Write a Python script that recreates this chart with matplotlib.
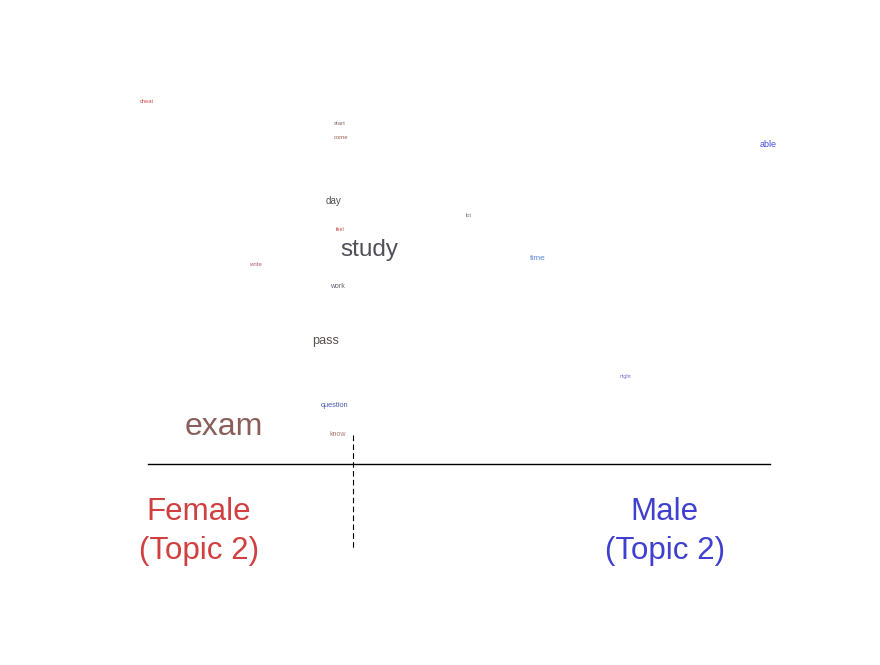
import matplotlib
matplotlib.use("Agg")
import matplotlib.pyplot as plt

plt.rcParams['font.family'] = ['Liberation Sans', 'DejaVu Sans']

# palabras del topico y su posicion (x: lado femenino/masculino, y: orden)
words = ["cheat", "start", "come", "able", "day", "lot", "feel", "study",
         "write", "time", "work", "pass", "night", "question", "exam", "know"]
word_x = [-1.003, -0.383, -0.379, 0.994, -0.402, 0.032, -0.383, -0.289,
          -0.656, 0.254, -0.392, -0.428, 0.537, -0.399, -0.756, -0.389]
word_y = [0.998, 0.937, 0.899, 0.879, 0.724, 0.684, 0.645, 0.589,
          0.549, 0.567, 0.488, 0.339, 0.240, 0.160, 0.102, 0.081]
# peso relativo de cada palabra (frecuencia)
word_weight = [0.18, 0.19, 0.19, 0.28, 0.31, 0.18, 0.17, 0.76,
               0.19, 0.26, 0.22, 0.40, 0.17, 0.23, 1.00, 0.22]
word_colors = ["#cc4c4c", "#8a6a6a", "#a06060", "#4a4ae0", "#555050", "#8a6a8a",
               "#cc4a4a", "#505058", "#b06060", "#5a86d8", "#606070", "#5a5050",
               "#7070d0", "#4a5aa8", "#8a5f5a", "#b07878"]

group_labels = ["Female\n(Topic 2)", "Male\n(Topic 2)"]
group_x = [-0.836, 0.662]
group_colors = ["#d04040", "#4040d0"]
mean_x = -0.341

fig = plt.figure(figsize=(8.8, 6.65), dpi=100)
ax = fig.add_axes([0, 0, 1, 1])
ax.set_xlim(-1.476, 1.354)
ax.set_ylim(-0.554, 1.278)
ax.axis("off")

for w, x, y, s, c in zip(words, word_x, word_y, word_weight, word_colors):
    ax.text(x, y, w, fontsize=23 * s, color=c, ha="center", va="center")

# linea base y linea punteada
ax.plot([-1, 1], [0, 0], color="black", lw=1)
ax.plot([mean_x, mean_x], [0.080, -0.231], color="black", lw=0.8,
        linestyle=(0, (5, 3)))

for lab, x, c in zip(group_labels, group_x, group_colors):
    ax.text(x, -0.186, lab, fontsize=22.5, color=c, ha="center", va="center",
            linespacing=1.4)

fig.savefig("out.png", dpi=100)
